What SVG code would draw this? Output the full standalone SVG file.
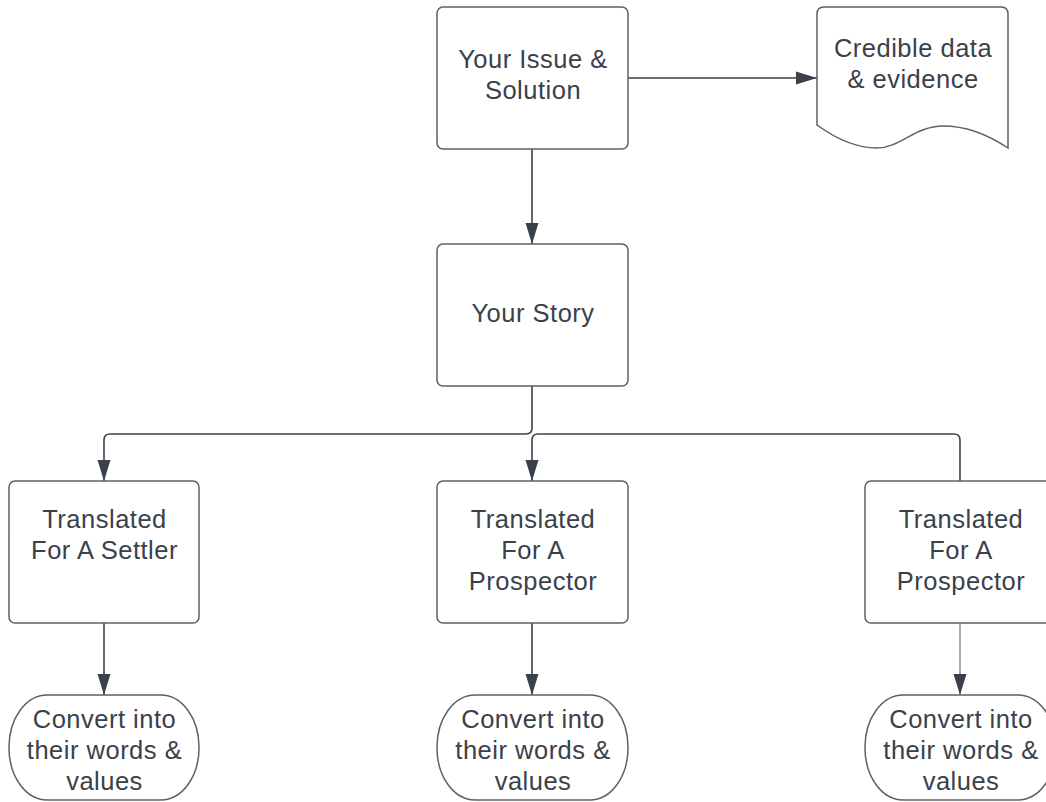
<svg xmlns="http://www.w3.org/2000/svg" width="1046" height="802" viewBox="0 0 1046 802">
<style>
.box{fill:#ffffff;stroke:#5a6169;stroke-width:1.5}
.t{font-family:"Liberation Sans",Arial,sans-serif;font-size:25.5px;letter-spacing:0.5px;fill:#3a414a;text-anchor:middle}
.c{fill:none;stroke:#3a414a;stroke-width:1.6}
.cl{fill:none;stroke:#6b7178;stroke-width:1.2}
</style>
<defs>
<marker id="a" markerUnits="userSpaceOnUse" markerWidth="22" markerHeight="14" viewBox="0 0 22 14" refX="21" refY="7" orient="auto">
<path d="M0,0.5 L21,7 L0,13.5 Z" fill="#3a414a"/>
</marker>
</defs>
<g id="connectors">
<path class="c" d="M628,78 H817" marker-end="url(#a)"/>
<path class="c" d="M532,149 V244" marker-end="url(#a)"/>
<path class="c" d="M532,386 V428 Q532,434 526,434 H110 Q104,434 104,440 V481" marker-end="url(#a)"/>
<path class="c" d="M960,481 V440 Q960,434 954,434 H538 Q532,434 532,440 V481" marker-end="url(#a)"/>
<path class="c" d="M104,623 V695" marker-end="url(#a)"/>
<path class="c" d="M532,623 V695" marker-end="url(#a)"/>
<path class="cl" d="M960,623 V695" marker-end="url(#a)"/>
</g>
<g id="issue">
<rect class="box" x="437" y="7" width="191" height="142" rx="6"/>
<text class="t" x="533" y="67.5">Your Issue &amp;</text>
<text class="t" x="533" y="98.5">Solution</text>
</g>
<g id="evidence">
<path class="box" d="M817,14 Q817,7 824,7 H1001 Q1008,7 1008,14 V148 C990,136 968,126 943,126 C915,126 900,148 877,148 C855,148 835,138 817,125 Z"/>
<text class="t" x="913" y="57">Credible data</text>
<text class="t" x="913" y="88">&amp; evidence</text>
</g>
<g id="story">
<rect class="box" x="437" y="244" width="191" height="142" rx="6"/>
<text class="t" x="533" y="321.5">Your Story</text>
</g>
<g id="settler">
<rect class="box" x="9" y="481" width="190" height="142" rx="6"/>
<text class="t" x="104.5" y="527.5">Translated</text>
<text class="t" x="104.5" y="558.5">For A Settler</text>
</g>
<g id="prospector1">
<rect class="box" x="437" y="481" width="191" height="142" rx="6"/>
<text class="t" x="533" y="527.5">Translated</text>
<text class="t" x="533" y="558.5">For A</text>
<text class="t" x="533" y="589.5">Prospector</text>
</g>
<g id="prospector2">
<rect class="box" x="865" y="481" width="191" height="142" rx="6"/>
<text class="t" x="961" y="527.5">Translated</text>
<text class="t" x="961" y="558.5">For A</text>
<text class="t" x="961" y="589.5">Prospector</text>
</g>
<g id="convert1">
<rect class="box" x="9" y="695" width="190" height="105" rx="38" ry="52"/>
<text class="t" x="104.5" y="727.5">Convert into</text>
<text class="t" x="104.5" y="758.5">their words &amp;</text>
<text class="t" x="104.5" y="789.5">values</text>
</g>
<g id="convert2">
<rect class="box" x="437" y="695" width="191" height="105" rx="38" ry="52"/>
<text class="t" x="533" y="727.5">Convert into</text>
<text class="t" x="533" y="758.5">their words &amp;</text>
<text class="t" x="533" y="789.5">values</text>
</g>
<g id="convert3">
<rect class="box" x="865" y="695" width="191" height="105" rx="38" ry="52"/>
<text class="t" x="961" y="727.5">Convert into</text>
<text class="t" x="961" y="758.5">their words &amp;</text>
<text class="t" x="961" y="789.5">values</text>
</g>
</svg>
